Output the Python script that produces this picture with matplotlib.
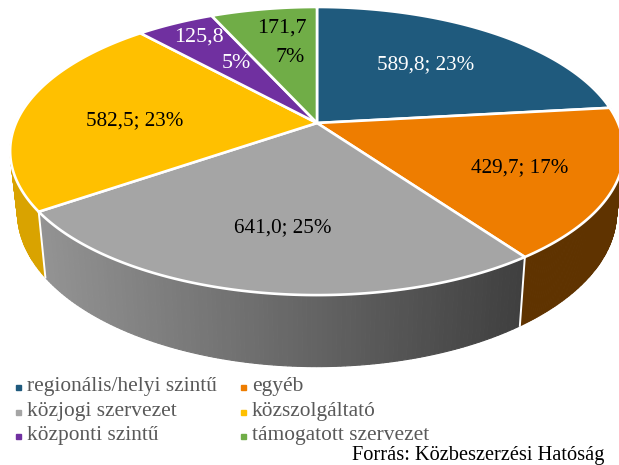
import numpy as np
import matplotlib
matplotlib.use("Agg")
import matplotlib.pyplot as plt
from matplotlib.colors import to_rgb

categories = ["regionális/helyi szintű", "egyéb", "közjogi szervezet",
              "közszolgáltató", "központi szintű", "támogatott szervezet"]
values = [589.8, 429.7, 641.0, 582.5, 125.8, 171.7]
percents = [23, 17, 25, 23, 5, 7]
colors = ["#1f5a7d", "#ee7d00", "#a5a5a5", "#ffc000", "#7030a0", "#70ad47"]
side_colors = ["#123a52", "#5f3300", None, "#d9a300", "#4a2070", "#4a7a30"]

plt.rcParams["font.family"] = ["Liberation Serif", "DejaVu Serif"]

# pixel coordinates, y pointing down
fig = plt.figure(figsize=(6.19, 4.65), dpi=100)
ax = fig.add_axes([0, 0, 1, 1])
ax.set_xlim(0, 619)
ax.set_ylim(465, 0)
ax.axis("off")

CX, CY = 317, 123
A, B, K = 301, 138.6, 0.1946


def top_rim(theta):
    # perspective projection of the pie circle, theta clockwise from the top
    u, v = np.sin(theta), np.cos(theta)
    w = 1 + K * v
    return CX + A * u / w, CY - B * v / w


def low_rim(theta):
    x, y = top_rim(theta)
    return CX + 0.976 * (x - CX), 182.5 + 1.07 * (y - CY)


def gray_shade(x):
    t = np.clip((x - 40) / (525 - 40), 0, 1)
    return tuple(np.array(to_rgb("#939393")) * (1 - t) + np.array(to_rgb("#3f3f3f")) * t)


edges = np.concatenate([[0], np.cumsum(values)]) / np.sum(values) * 2 * np.pi

# side wall first, split in thin strips so the gray one can carry its gradient
for i in range(len(values)):
    th = np.linspace(edges[i], edges[i + 1], 121)
    for a, b in zip(th[:-1], th[1:]):
        if np.cos((a + b) / 2) > 0.35:
            continue
        xa, ya = top_rim(a)
        xb, yb = top_rim(b)
        xc, yc = low_rim(b)
        xd, yd = low_rim(a)
        col = side_colors[i] if side_colors[i] else gray_shade((xa + xb) / 2)
        ax.fill([xa, xb, xc, xd], [ya, yb, yc, yd], color=col, lw=0.8, zorder=1)

for e in edges[[1, 2, 3]]:
    x0, y0 = top_rim(e)
    x1, y1 = low_rim(e)
    ax.plot([x0, x1], [y0, y1], color="white", lw=1.4, zorder=2)

# top faces
for i, col in enumerate(colors):
    th = np.linspace(edges[i], edges[i + 1], 200)
    x, y = top_rim(th)
    ax.fill(np.r_[CX, x], np.r_[CY, y], facecolor=col, edgecolor="white", lw=1.9,
            joinstyle="round", zorder=3)

label_pos = [(426, 65), (520, 168), (283, 228), (135, 121)]
label_col = ["white", "black", "black", "black"]
for i, (px, py) in enumerate(label_pos):
    txt = f"{values[i]:.1f}".replace(".", ",") + f"; {percents[i]}%"
    ax.text(px, py, txt, color=label_col[i], fontsize=15.2, ha="center", va="center", zorder=4)

ax.text(199, 37, f"{values[4]:.1f}".replace(".", ","), color="white", fontsize=15.8, ha="center", va="center", zorder=4)
ax.text(236, 63, f"{percents[4]}%", color="white", fontsize=15.8, ha="center", va="center", zorder=4)
ax.text(282, 28, f"{values[5]:.1f}".replace(".", ","), color="black", fontsize=15.8, ha="center", va="center", zorder=4)
ax.text(290, 57, f"{percents[5]}%", color="black", fontsize=15.8, ha="center", va="center", zorder=4)

# legend, filled row by row
rows = [387, 412, 436]
cols = [(18, 27), (243, 252)]
for i, name in enumerate(categories):
    mx, tx = cols[i % 2]
    ry = rows[i // 2]
    ax.plot([mx], [ry], marker="s", ms=3.6, color=colors[i], ls="none", zorder=4)
    ax.text(tx, ry - 0.5, name, color="#595959", fontsize=15.4, ha="left", va="center", zorder=4)

ax.text(352, 455, "Forrás: Közbeszerzési Hatóság", color="black", fontsize=14.7, ha="left", va="center", zorder=4)

fig.savefig("out.png", dpi=100, facecolor="white")
